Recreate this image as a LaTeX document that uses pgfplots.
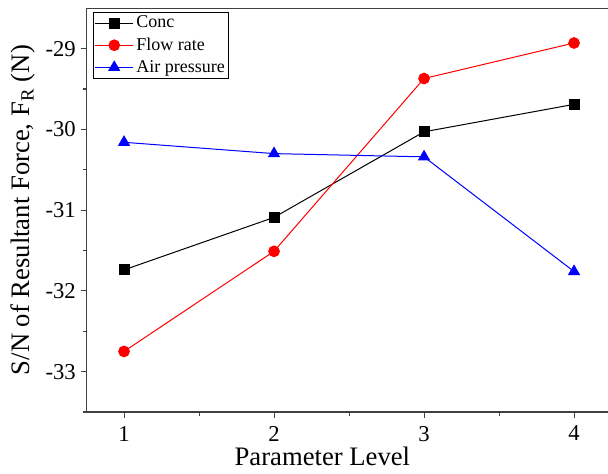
\documentclass[border=0pt]{standalone}
\usepackage{pgfplots}
\pgfplotsset{compat=1.18}
\usepackage{fontspec}
\setmainfont{Liberation Serif}
\begin{document}
\begin{tikzpicture}
\path[use as bounding box] (0pt,0pt) rectangle (456pt,355.5pt);
\begin{axis}[
 at={(64.9pt,46.5pt)}, anchor=south west, scale only axis,
 width=393.75pt, height=302.8pt,
 xmin=0.75, xmax=4.25, ymin=-33.5, ymax=-28.5,
 xtick={1,2,3,4}, ytick={-33,-32,-31,-30,-29},
 minor xtick={1.5,2.5,3.5},
 minor ytick={-33.5,-32.5,-31.5,-30.5,-29.5},
 xtick pos=bottom, ytick pos=left, tick align=outside,
 major tick length=4.5pt, minor tick length=3pt,
 axis line style={black!75, line width=0.8pt},
 every tick/.style={black!75, line width=0.8pt},
 /pgf/number format/assume math mode=true,
 tick label style={font=\fontsize{17}{17}\selectfont},
 xticklabel style={yshift=-2.5pt},
 label style={font=\fontsize{20}{20}\selectfont},
 xlabel={Parameter Level},
 ylabel={S/N of Resultant Force, F\textsubscript{R} (N)},
 xlabel style={yshift=2.5pt, xshift=-20pt},
 ylabel style={yshift=1pt},
 legend cell align=left,
 legend style={at={(0.0124,0.9916)}, anchor=north west, draw=black, line width=0.6pt,
   font=\fontsize{13.5}{14}\selectfont, inner sep=1pt, row sep=2pt},
 legend image code/.code={\draw[mark repeat=2,mark phase=2] plot coordinates {(0cm,0cm) (0.5cm,0cm) (1.0cm,0cm)};},
]
\addplot[black, line width=0.75pt, mark=square*, mark size=3.75pt, mark options={solid}] coordinates {(1,-31.74) (2,-31.09) (3,-30.03) (4,-29.69)};
\addlegendentry{Conc}
\addplot[red, line width=0.75pt, mark=*, mark size=4pt, mark options={solid}] coordinates {(1,-32.75) (2,-31.51) (3,-29.37) (4,-28.93)};
\addlegendentry{Flow rate}
\addplot[blue, line width=0.75pt, mark=triangle*, mark size=4.6pt, mark options={solid}] coordinates {(1,-30.16) (2,-30.30) (3,-30.34) (4,-31.76)};
\addlegendentry{Air pressure}
\end{axis}
\end{tikzpicture}
\end{document}
